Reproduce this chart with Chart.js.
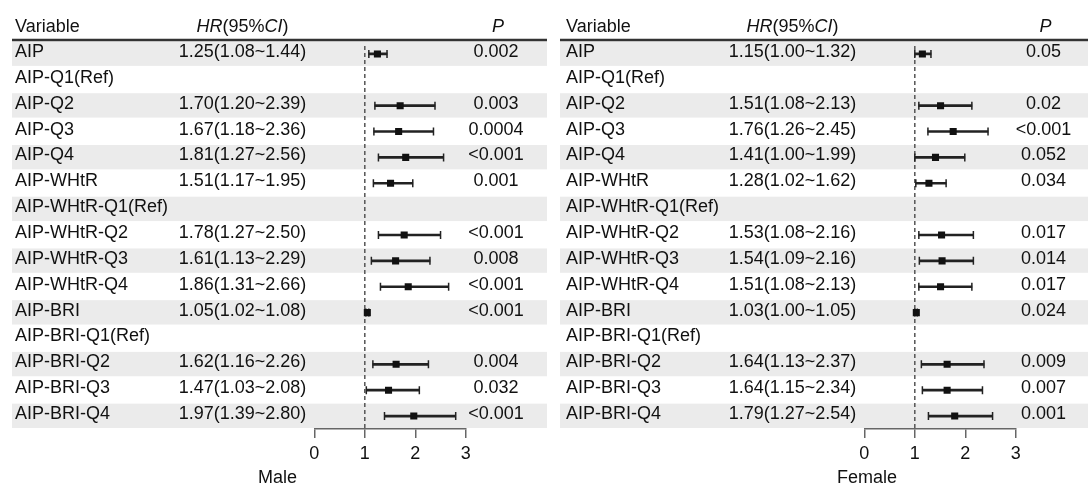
<!DOCTYPE html>
<html>
<head>
<meta charset="utf-8">
<script src="https://cdn.jsdelivr.net/npm/chart.js@4.4.1/dist/chart.umd.min.js"></script>
<style>
  html, body { margin: 0; padding: 0; background: #fff; overflow: hidden; }
  #wrap { position: relative; width: 1088px; height: 486px; }
  canvas { position: absolute; top: 0; }
</style>
</head>
<body>
<div id="wrap">
  <canvas id="male" width="550" height="486" style="left:0;width:550px;height:486px"></canvas>
  <canvas id="female" width="538" height="486" style="left:550px;width:538px;height:486px"></canvas>
</div>
<script>
// rows (same for both panels)
const variables = ['AIP', 'AIP-Q1(Ref)', 'AIP-Q2', 'AIP-Q3', 'AIP-Q4', 'AIP-WHtR', 'AIP-WHtR-Q1(Ref)',
  'AIP-WHtR-Q2', 'AIP-WHtR-Q3', 'AIP-WHtR-Q4', 'AIP-BRI', 'AIP-BRI-Q1(Ref)', 'AIP-BRI-Q2', 'AIP-BRI-Q3', 'AIP-BRI-Q4'];

// male
const maleHR    = [1.25, null, 1.70, 1.67, 1.81, 1.51, null, 1.78, 1.61, 1.86, 1.05, null, 1.62, 1.47, 1.97];
const maleLower = [1.08, null, 1.20, 1.18, 1.27, 1.17, null, 1.27, 1.13, 1.31, 1.02, null, 1.16, 1.03, 1.39];
const maleUpper = [1.44, null, 2.39, 2.36, 2.56, 1.95, null, 2.50, 2.29, 2.66, 1.08, null, 2.26, 2.08, 2.80];
const maleP     = ['0.002', '', '0.003', '0.0004', '<0.001', '0.001', '', '<0.001', '0.008', '<0.001', '<0.001', '', '0.004', '0.032', '<0.001'];

// female
const femaleHR    = [1.15, null, 1.51, 1.76, 1.41, 1.28, null, 1.53, 1.54, 1.51, 1.03, null, 1.64, 1.64, 1.79];
const femaleLower = [1.00, null, 1.08, 1.26, 1.00, 1.02, null, 1.08, 1.09, 1.08, 1.00, null, 1.13, 1.15, 1.27];
const femaleUpper = [1.32, null, 2.13, 2.45, 1.99, 1.62, null, 2.16, 2.16, 2.13, 1.05, null, 2.37, 2.34, 2.54];
const femaleP     = ['0.05', '', '0.02', '<0.001', '0.052', '0.034', '', '0.017', '0.014', '0.017', '0.024', '', '0.009', '0.007', '0.001'];

const xTicks = [0, 1, 2, 3];

Chart.defaults.font.family = "'Liberation Sans', Arial, Helvetica, sans-serif";
Chart.defaults.font.size = 18;
Chart.defaults.color = '#111';

const FONT = "18px 'Liberation Sans', Arial, sans-serif";
const FONT_I = "italic 18px 'Liberation Sans', Arial, sans-serif";

function makePanel(id, width, title, hr, lower, upper, pvals, pos) {
  const hrText = hr.map((v, i) => v == null ? '' :
    v.toFixed(2) + '(' + lower[i].toFixed(2) + '~' + upper[i].toFixed(2) + ')');

  const caps = [];
  const boxes = [];
  hr.forEach((v, i) => {
    if (v == null) return;
    caps.push({ x: lower[i], y: variables[i] }, { x: upper[i], y: variables[i] });
    boxes.push({ x: v, y: variables[i] });
  });

  const table = {
    id: 'table' + id,
    beforeDraw(chart) {
      const ctx = chart.ctx;
      const ys = chart.scales.y;
      const pitch = ys.height / variables.length;
      ctx.save();
      ctx.fillStyle = '#ebebeb';
      variables.forEach((v, i) => {
        if (i % 2) return;
        const c = ys.getPixelForValue(i);
        ctx.fillRect(pos.bandL, c - pitch / 2 + 0.5, pos.bandR - pos.bandL, pitch - 1.5);
      });
      ctx.restore();
    },
    beforeDatasetsDraw(chart) {
      const ctx = chart.ctx;
      const xs = chart.scales.x;
      const a = chart.chartArea;
      const px = xs.getPixelForValue(1);
      ctx.save();
      ctx.strokeStyle = '#555';
      ctx.lineWidth = 1.5;
      ctx.setLineDash([4, 3]);
      ctx.beginPath();
      ctx.moveTo(px, a.top + 5);
      ctx.lineTo(px, a.bottom);
      ctx.stroke();
      ctx.restore();
    },
    afterDraw(chart) {
      const ctx = chart.ctx;
      const ys = chart.scales.y;
      ctx.save();
      ctx.fillStyle = '#111';
      ctx.textBaseline = 'alphabetic';

      // header
      ctx.font = FONT;
      ctx.textAlign = 'left';
      ctx.fillText('Variable', pos.varX, 31.5);
      const parts = [['HR', true], ['(95%', false], ['CI', true], [')', false]];
      let tw = 0;
      parts.forEach(p => { ctx.font = p[1] ? FONT_I : FONT; tw += ctx.measureText(p[0]).width; });
      let hx = pos.hrX - tw / 2;
      parts.forEach(p => {
        ctx.font = p[1] ? FONT_I : FONT;
        ctx.fillText(p[0], hx, 31.5);
        hx += ctx.measureText(p[0]).width;
      });
      ctx.font = FONT_I;
      ctx.textAlign = 'center';
      ctx.fillText('P', pos.pX + 2, 31.5);

      ctx.strokeStyle = '#333';
      ctx.lineWidth = 2.5;
      ctx.beginPath();
      ctx.moveTo(pos.bandL, 40);
      ctx.lineTo(pos.bandR, 40);
      ctx.stroke();

      // rows
      ctx.font = FONT;
      variables.forEach((v, i) => {
        const y = ys.getPixelForValue(i) + 3;
        ctx.textAlign = 'left';
        ctx.fillText(v, pos.varX, y);
        ctx.textAlign = 'center';
        ctx.fillText(hrText[i], pos.hrX, y);
        ctx.fillText(pvals[i], pos.pX, y);
      });

      // panel title
      ctx.fillText(title, pos.titleX, 483);
      ctx.restore();
    }
  };

  return new Chart(document.getElementById(id), {
    type: 'bar',
    data: {
      labels: variables,
      datasets: [
        {
          type: 'bar',
          indexAxis: 'y',
          data: lower.map((l, i) => l == null ? null : [l, upper[i]]),
          backgroundColor: '#222',
          borderWidth: 0,
          barThickness: 2,
          order: 3
        },
        {
          type: 'scatter',
          data: caps,
          pointStyle: 'line',
          rotation: 90,
          radius: 4,
          borderWidth: 1.5,
          borderColor: '#222',
          order: 2
        },
        {
          type: 'scatter',
          data: boxes,
          pointStyle: 'rect',
          radius: 5,
          backgroundColor: '#111',
          borderColor: '#111',
          borderWidth: 0,
          order: 1
        }
      ]
    },
    options: {
      responsive: false,
      animation: false,
      events: [],
      layout: { padding: { left: pos.x0, right: width - pos.x3, top: 41, bottom: 0 } },
      plugins: { legend: { display: false }, tooltip: { enabled: false } },
      scales: {
        x: {
          type: 'linear',
          position: 'bottom',
          min: 0,
          max: 3,
          offset: false,
          afterBuildTicks: s => { s.ticks = xTicks.map(v => ({ value: v })); },
          afterFit: s => { s.height = 57; },
          grid: { offset: false, drawOnChartArea: false, drawTicks: true, tickLength: 9, color: '#666', lineWidth: 1.5 },
          border: { display: true, color: '#666', width: 1.5 },
          ticks: { padding: 5, color: '#111', font: { size: 18 } }
        },
        y: {
          type: 'category',
          display: false,
          offset: true
        }
      }
    },
    plugins: [table]
  });
}

makePanel('male', 550, 'Male', maleHR, maleLower, maleUpper, maleP,
  { x0: 314.3, x3: 465.8, varX: 15, hrX: 242.5, pX: 496, bandL: 12, bandR: 547, titleX: 277.5 });
makePanel('female', 538, 'Female', femaleHR, femaleLower, femaleUpper, femaleP,
  { x0: 314.3, x3: 465.8, varX: 16, hrX: 242.5, pX: 493.5, bandL: 10, bandR: 538, titleX: 317 });
</script>
</body>
</html>
